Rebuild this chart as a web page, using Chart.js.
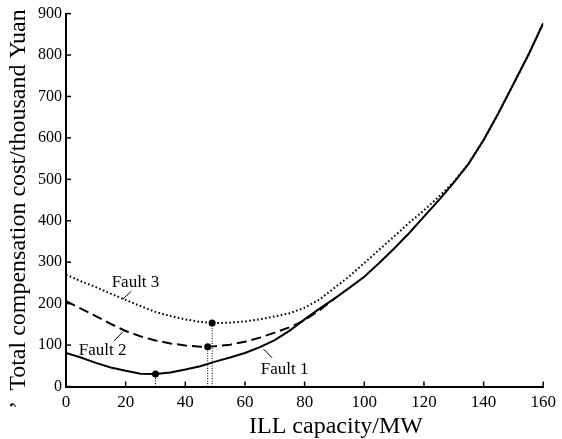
<!DOCTYPE html>
<html>
<head>
<meta charset="utf-8">
<script src="https://cdn.jsdelivr.net/npm/chart.js@4/dist/chart.umd.min.js"></script>
<style>
  html, body { margin: 0; padding: 0; background: #fff; }
  #wrap { width: 562px; height: 439px; position: relative; }
</style>
</head>
<body>
<div id="wrap"><canvas id="chart"></canvas></div>
<script>
// ILL capacity (MW), step 5
const capacity = [0, 5, 10, 15, 20, 25, 30, 35, 40, 45, 50, 55, 60, 65, 70, 75, 80,
  85, 90, 95, 100, 105, 110, 115, 120, 125, 130, 135, 140, 145, 150, 155, 160];

// total compensation cost (thousand Yuan)
const fault1 = [81, 70, 57, 46, 38, 31, 30, 34, 41, 49, 60, 70, 81, 95, 112, 135, 162,
  188, 212, 238, 265, 298, 333, 370, 410, 450, 492, 538, 595, 660, 730, 800, 877];
const fault2 = [206, 188, 170, 151, 134, 121, 111, 104, 99, 96, 97, 101, 108, 118, 130, 143, 160,
  184, 212];
const fault3 = [270, 254, 240, 224, 209, 194, 180, 170, 162, 156, 153, 154, 157, 162, 169, 177, 190,
  210, 238, 266, 298, 330, 362, 395, 425, 458, 494, 538, 595, 660, 730, 800, 877];

// optimum points
const optimumX = [30, 47.5, 49];
const optimumY = [30, 96, 153];

const xTicks = [0, 20, 40, 60, 80, 100, 120, 140, 160];
const yTicks = [0, 100, 200, 300, 400, 500, 600, 700, 800, 900];

const seriesNames = ['Fault 1', 'Fault 2', 'Fault 3'];
const xTitle = 'ILL capacity/MW';
const yTitle = 'Total compensation cost/thousand Yuan';

const FONT = '"Liberation Serif", "DejaVu Serif", serif';

const toPoints = (ys) => ys.map((y, i) => ({ x: capacity[i], y }));

const datasets = [
  { label: seriesNames[2], data: toPoints(fault3), borderColor: '#000', borderWidth: 2, borderDash: [1.6, 2.4], pointRadius: 0, tension: 0 },
  { label: seriesNames[1], data: toPoints(fault2), borderColor: '#000', borderWidth: 2, borderDash: [10, 5], pointRadius: 0, tension: 0 },
  { label: seriesNames[0], data: toPoints(fault1), borderColor: '#000', borderWidth: 2, pointRadius: 0, tension: 0 },
];

// vertical drop lines from each optimum to the x axis
optimumX.forEach((x, i) => {
  datasets.push({
    label: 'drop' + i,
    data: [{ x, y: 0 }, { x, y: optimumY[i] }],
    borderColor: '#000', borderWidth: 1, borderDash: [1, 1.5],
    pointRadius: [0, 3.5], pointBackgroundColor: '#000', pointBorderWidth: 0,
  });
});

// text labels with leader lines (data coordinates)
const notes = [
  { text: seriesNames[2], x: 23.3, y: 251, from: [21.9, 230], to: [18.9, 210] },
  { text: seriesNames[1], x: 12.3, y: 88, from: [19.1, 132], to: [16.1, 110] },
  { text: seriesNames[0], x: 73.3, y: 40, from: [66.3, 90], to: [69.1, 69] },
];

const decor = {
  id: 'decor',
  afterDatasetsDraw(chart) {
    const { ctx, scales: { x, y } } = chart;
    ctx.save();
    ctx.strokeStyle = '#000';
    ctx.lineWidth = 1.5;
    // inward tick marks
    xTicks.forEach(v => {
      const px = x.getPixelForValue(v);
      ctx.beginPath(); ctx.moveTo(px, y.bottom); ctx.lineTo(px, y.bottom - 5); ctx.stroke();
    });
    yTicks.forEach(v => {
      const py = y.getPixelForValue(v);
      ctx.beginPath(); ctx.moveTo(x.left, py); ctx.lineTo(x.left + 5, py); ctx.stroke();
    });
    // annotations
    ctx.lineWidth = 1;
    ctx.fillStyle = '#000';
    ctx.font = '17px ' + FONT;
    ctx.textAlign = 'center';
    ctx.textBaseline = 'middle';
    notes.forEach(n => {
      ctx.fillText(n.text, x.getPixelForValue(n.x), y.getPixelForValue(n.y));
      ctx.beginPath();
      ctx.moveTo(x.getPixelForValue(n.from[0]), y.getPixelForValue(n.from[1]));
      ctx.lineTo(x.getPixelForValue(n.to[0]), y.getPixelForValue(n.to[1]));
      ctx.stroke();
    });
    // axis titles
    ctx.font = '24px ' + FONT;
    ctx.fillText(xTitle, x.left + 270, y.bottom + 40);
    ctx.translate(19, (y.top + y.bottom) / 2);
    ctx.rotate(-Math.PI / 2);
    ctx.fillText(yTitle, 0, 0);
    ctx.fillText('\u2019', -205, 0);
    ctx.restore();
  }
};

new Chart(document.getElementById('chart'), {
  type: 'line',
  data: { datasets },
  options: {
    responsive: true,
    maintainAspectRatio: false,
    animation: false,
    layout: { padding: { top: 12, right: 16, left: 0, bottom: 0 } },
    plugins: { legend: { display: false }, tooltip: { enabled: false } },
    scales: {
      x: {
        type: 'linear', min: 0, max: 160,
        afterBuildTicks: s => { s.ticks = xTicks.map(v => ({ value: v })); },
        afterFit: s => { s.height = 52.5; },
        grid: { display: false, drawTicks: false, tickLength: 0 },
        border: { display: true, color: '#000', width: 2 },
        ticks: { color: '#000', font: { family: FONT, size: 17 }, padding: 6, maxRotation: 0 },
      },
      y: {
        type: 'linear', min: 0, max: 900,
        afterBuildTicks: s => { s.ticks = yTicks.map(v => ({ value: v })); },
        afterFit: s => { s.width = 66; },
        grid: { display: false, drawTicks: false, tickLength: 0 },
        border: { display: true, color: '#000', width: 2 },
        ticks: { color: '#000', font: { family: FONT, size: 16 }, padding: 4 },
      },
    },
  },
  plugins: [decor],
});
</script>
</body>
</html>
